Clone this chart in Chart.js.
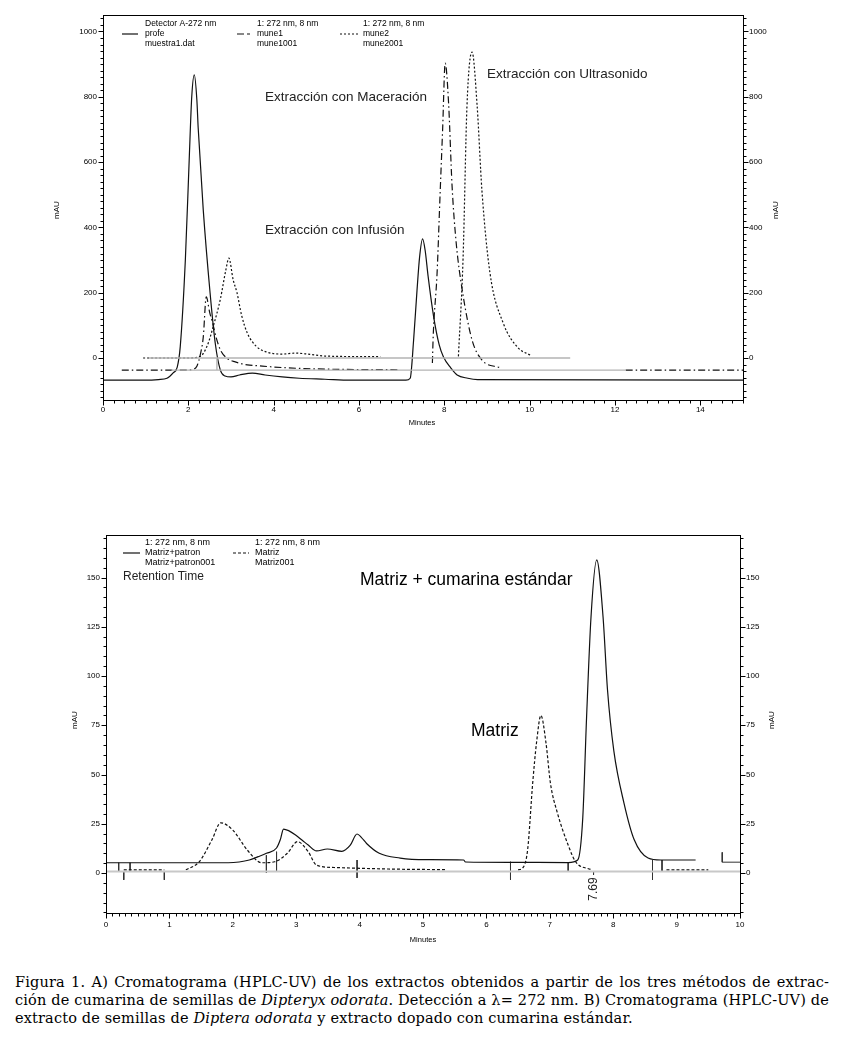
<!DOCTYPE html>
<html>
<head>
<meta charset="utf-8">
<script src="https://cdn.jsdelivr.net/npm/chart.js@4.4.1/dist/chart.umd.min.js"></script>
<style>
  body { margin: 0; background: #fff; width: 846px; height: 1037px; position: relative; overflow: hidden; }
  canvas { position: absolute; left: 0; }
  #cap { position: absolute; left: 15px; top: 973px; width: 814px; font: 14.5px "DejaVu Serif", serif; letter-spacing: 0.15px; line-height: 18px; color: #000; }
  #cap div { white-space: nowrap; text-align: justify; text-align-last: justify; }
  #cap div.last { text-align-last: left; }
</style>
</head>
<body>
<canvas id="chartA" width="846" height="440" style="top:0"></canvas>
<canvas id="chartB" width="846" height="460" style="top:500px"></canvas>
<div id="cap">
  <div>Figura 1. A) Cromatograma (HPLC-UV) de los extractos obtenidos a partir de los tres métodos de extrac-</div>
  <div>ción de cumarina de semillas de <i>Dipteryx odorata</i>. Detección a λ= 272 nm. B) Cromatograma (HPLC-UV) de</div>
  <div class="last">extracto de semillas de <i>Diptera odorata</i> y extracto dopado con cumarina estándar.</div>
</div>
<script>
// ---- chart A: three extraction methods ----
const topXTicks = [0, 2, 4, 6, 8, 10, 12, 14];
const topYTicks = [0, 200, 400, 600, 800, 1000];

// profe (infusion), solid
const profeT = [0, 1.0, 1.3, 1.5, 1.65, 1.74, 1.81, 1.93, 2.02, 2.08, 2.14, 2.2, 2.23, 2.35, 2.51, 2.63, 2.75, 2.86, 3.0, 3.2,
  3.5, 3.8, 4.2, 4.6, 5.2, 5.8, 7.1, 7.2, 7.28, 7.36, 7.42, 7.49, 7.55, 7.62, 7.75, 7.88, 7.98, 8.15, 8.3, 8.55, 8.78, 15];
const profeV = [-68, -68, -66, -62, -45, -28, 34, 300, 606, 800, 867, 790, 707, 453, 199, 46, -37, -55, -58, -52,
  -46, -52, -58, -62, -65, -68, -68, -62, 55, 208, 309, 365, 330, 250, 126, 40, 3, -30, -52, -62, -66, -68];

// mune1 (maceration), dash-dot
const mune1T = [0.44, 1.97, 2.1, 2.2, 2.28, 2.35, 2.42, 2.5, 2.57, 2.65, 2.75, 2.9, 3.1, 3.38, 3.65, 4.3, 5.2, 6.9, null,
  7.72, 7.74, 7.83, 7.9, 7.96, 8.02, 8.1, 8.18, 8.28, 8.42, 8.65, 8.88, 9.31, null, 12.25, 15];
const mune1V = [-37, -37, -35, -25, 10, 64, 187, 140, 107, 64, 25, 0, -12, -21, -24, -30, -34, -36, null,
  -15, 70, 260, 500, 700, 903, 780, 530, 350, 208, 55, -6, -30, null, -37, -37];

// mune2 (ultrasound), dotted
const mune2T = [0.94, 2.0, 2.28, 2.45, 2.58, 2.75, 2.88, 2.95, 3.05, 3.14, 3.25, 3.38, 3.6, 3.84, 4.2, 4.5, 4.8, 5.2, 6.5, null,
  8.33, 8.44, 8.53, 8.65, 8.77, 8.88, 9.07, 9.38, 9.73, 10.01];
const mune2V = [0, 0, 5, 40, 95, 180, 270, 306, 240, 200, 130, 77, 35, 18, 12, 15, 12, 6, 4, null,
  5, 309, 770, 937, 770, 515, 260, 107, 31, 9];

// grey baselines
const topGrayT = [1.08, 10.95, null, 1.6, 12.25, null, 2.67, 2.67];
const topGrayV = [0, 0, null, -37, -37, null, 0, -37];

// ---- chart B: matrix vs matrix + coumarin ----
const botXTicks = [0, 1, 2, 3, 4, 5, 6, 7, 8, 9, 10];
const botYTicks = [0, 25, 50, 75, 100, 125, 150];

const patronT = [0, 1.93, 2.1, 2.26, 2.4, 2.53, 2.69, 2.75, 2.8, 2.88, 2.99, 3.1, 3.19, 3.32, 3.49, 3.72, 3.85, 3.96, 4.03, 4.11,
  4.31, 4.64, 5.04, 5.64, 5.67, 6.37, 7.29, 7.44, 7.52, 7.58, 7.65, 7.74, 7.84, 7.91, 8.01, 8.17, 8.33, 8.55, 8.75, 9.3];
const patronV = [5.2, 5.2, 5.6, 6.6, 8.3, 10, 12.7, 17, 22.3, 21.5, 19.3, 16.5, 14.2, 11.2, 12.2, 11, 14, 19.8, 18, 15,
  10, 7.6, 6.8, 6.6, 5.6, 5.4, 5.3, 6.6, 28, 79, 130, 159, 130, 93, 62, 35.5, 17, 7.6, 6.6, 6.6];

const matrizT = [0.28, 0.92, null, 1.26, 1.47, 1.67, 1.81, 2.0, 2.23, 2.46, 2.66, 2.86, 3.02, 3.19, 3.32, 3.6, 4.0, 4.5, 5.37, null,
  6.5, 6.57, 6.65, 6.73, 6.79, 6.86, 6.94, 7.01, 7.12, 7.28, 7.41, 7.65, null, 8.84, 9.5];
const matrizV = [1.6, 1.6, null, 1.6, 5.7, 16.8, 25.5, 21.8, 11.6, 5.2, 5.7, 10, 15.9, 10.8, 4, 2.8, 2.4, 2, 1.7, null,
  1.6, 2.5, 11.7, 45.6, 66, 80, 66, 45.6, 30.5, 15, 5.6, 1.7, null, 1.6, 1.6];

const botGrayT = [0, 10];
const botGrayV = [0.8, 0.8];

// integration marks
const markT = [0.2, 0.2, null, 0.28, 0.28, null, 0.38, 0.38, null, 0.92, 0.92, null, 2.53, 2.53, null, 2.69, 2.69, null,
  3.96, 3.96, null, 6.38, 6.38, null, 7.29, 7.29, null, 7.69, 7.69, null, 8.62, 8.62, null, 8.77, 8.77, null, 9.72, 9.72, 10];
const markV = [5.2, 1, null, 1, -3.5, null, 5.2, 1, null, 1, -3.5, null, 9, 0, null, 10.8, 1, null,
  6.6, -2.5, null, 5.7, -3.5, null, 5.3, 1, null, 1, -1, null, 6.6, -3.5, null, 6.6, 1, null, 10.5, 5.5, 5.5];

const SANS = '"Liberation Sans", Arial, sans-serif';
Chart.defaults.font.family = SANS;

// zip two arrays to {x,y}; a null keeps the last x so the gap does not break sorting
function pts(ts, vs) {
  let last = 0;
  return ts.map((t, i) => {
    if (t === null) return { x: last, y: null };
    last = t;
    return { x: t, y: vs[i] };
  });
}

const DASHDOT = [7, 3, 1.5, 3];
const DOTS = [2, 2];
const DOTS_B = [3, 2];

function line(label, data, dash, extra) {
  return Object.assign({
    label, data,
    borderColor: '#111', borderWidth: 1.2, borderDash: dash || [],
    pointRadius: 0, fill: false, spanGaps: false,
    cubicInterpolationMode: 'monotone'
  }, extra || {});
}

// frame, outward ticks, legend and labels
function framePlugin(cfg) {
  return {
    id: 'frame',
    afterDatasetsDraw(chart) {
      const { ctx, chartArea: a, scales: { x, y } } = chart;
      ctx.save();
      ctx.strokeStyle = '#000';
      ctx.lineWidth = 1;
      ctx.setLineDash([]);
      const L = Math.round(a.left) + 0.5, R = Math.round(a.right) + 0.5;
      const T = Math.round(a.top) + 0.5, B = Math.round(a.bottom) + 0.5;
      ctx.strokeRect(L, T, R - L, B - T);
      ctx.beginPath();
      for (let i = Math.ceil(x.min / cfg.xMinor); i * cfg.xMinor <= x.max + 1e-9; i++) {
        const v = i * cfg.xMinor;
        const px = Math.round(x.getPixelForValue(v)) + 0.5;
        const major = Math.abs(v / cfg.xMajor - Math.round(v / cfg.xMajor)) < 1e-6;
        ctx.moveTo(px, B); ctx.lineTo(px, B + (major ? 5 : 3));
      }
      for (let i = Math.ceil(y.min / cfg.yMinor); i * cfg.yMinor <= y.max + 1e-9; i++) {
        const v = i * cfg.yMinor;
        const py = Math.round(y.getPixelForValue(v)) + 0.5;
        const major = Math.abs(v / cfg.yMajor - Math.round(v / cfg.yMajor)) < 1e-6;
        const len = major ? 5 : 3;
        ctx.moveTo(L, py); ctx.lineTo(L - len, py);
        ctx.moveTo(R, py); ctx.lineTo(R + len, py);
      }
      ctx.stroke();

      // legend samples
      ctx.strokeStyle = '#111';
      ctx.lineWidth = 1.2;
      cfg.samples.forEach(s => {
        ctx.setLineDash(s.dash);
        ctx.beginPath();
        ctx.moveTo(s.x1, s.y); ctx.lineTo(s.x2, s.y);
        ctx.stroke();
      });
      ctx.setLineDash([]);

      // texts
      ctx.textBaseline = 'middle';
      cfg.texts.forEach(t => {
        ctx.save();
        ctx.font = t.size + 'px ' + SANS;
        ctx.fillStyle = t.color || '#000';
        ctx.textAlign = t.align || 'left';
        ctx.translate(t.x, t.y);
        if (t.rot) ctx.rotate(t.rot * Math.PI / 180);
        ctx.fillText(t.text, 0, 0);
        ctx.restore();
      });
      ctx.restore();
    }
  };
}

function axes(xmin, xmax, xTicks, ymin, ymax, yTicks, xH, yW, yW2, xPad) {
  const tickFont = { size: 8, family: SANS };
  const plain = v => String(v);
  const common = {
    type: 'linear',
    grid: { display: false, drawTicks: false },
    border: { display: false },
  };
  return {
    x: Object.assign({}, common, {
      min: xmin, max: xmax, position: 'bottom',
      afterBuildTicks: s => { s.ticks = xTicks.map(v => ({ value: v })); },
      afterFit: s => { s.height = xH; },
      ticks: { font: tickFont, color: '#000', padding: xPad, maxRotation: 0, autoSkip: false, callback: plain }
    }),
    y: Object.assign({}, common, {
      min: ymin, max: ymax, position: 'left',
      afterBuildTicks: s => { s.ticks = yTicks.map(v => ({ value: v })); },
      afterFit: s => { s.width = yW; },
      ticks: { font: tickFont, color: '#000', padding: 6, autoSkip: false, callback: plain }
    }),
    y2: Object.assign({}, common, {
      min: ymin, max: ymax, position: 'right',
      afterBuildTicks: s => { s.ticks = yTicks.map(v => ({ value: v })); },
      afterFit: s => { s.width = yW2; },
      ticks: { font: tickFont, color: '#000', padding: 6, autoSkip: false, callback: plain }
    })
  };
}

const baseOpts = {
  responsive: false,
  animation: false,
  events: [],
  plugins: { legend: { display: false }, tooltip: { enabled: false } }
};

// chart A
new Chart(document.getElementById('chartA'), {
  type: 'line',
  data: {
    datasets: [
      line('gris', pts(topGrayT, topGrayV), [], { borderColor: '#b4b4b4', borderWidth: 1.4, cubicInterpolationMode: 'default', tension: 0 }),
      line('profe', pts(profeT, profeV)),
      line('mune1', pts(mune1T, mune1V), DASHDOT),
      line('mune2', pts(mune2T, mune2V), DOTS)
    ]
  },
  options: Object.assign({}, baseOpts, {
    layout: { padding: { top: 15, left: 0, right: 0, bottom: 0 } },
    scales: axes(0, 15, topXTicks, -128.6, 1050.5, topYTicks, 40, 103, 103, 5)
  }),
  plugins: [framePlugin({
    xMinor: 0.25, xMajor: 2, yMinor: 20, yMajor: 200,
    samples: [
      { x1: 122, x2: 138, y: 34, dash: [] },
      { x1: 237, x2: 252, y: 34, dash: [7, 3, 3, 3] },
      { x1: 340, x2: 358, y: 34, dash: DOTS }
    ],
    texts: [
      { text: 'Detector A-272 nm', x: 145, y: 24, size: 8.5 },
      { text: 'profe', x: 145, y: 34, size: 8.5 },
      { text: 'muestra1.dat', x: 145, y: 44, size: 8.5 },
      { text: '1: 272 nm, 8 nm', x: 257, y: 24, size: 8.5 },
      { text: 'mune1', x: 257, y: 34, size: 8.5 },
      { text: 'mune1001', x: 257, y: 44, size: 8.5 },
      { text: '1: 272 nm, 8 nm', x: 363, y: 24, size: 8.5 },
      { text: 'mune2', x: 363, y: 34, size: 8.5 },
      { text: 'mune2001', x: 363, y: 44, size: 8.5 },
      { text: 'Extracción con Maceración', x: 265, y: 97, size: 13.5, color: '#222' },
      { text: 'Extracción con Infusión', x: 265, y: 230, size: 13.5, color: '#222' },
      { text: 'Extracción con Ultrasonido', x: 487, y: 74, size: 13.5, color: '#222' },
      { text: 'mAU', x: 57, y: 210, size: 8, rot: -90, align: 'center' },
      { text: 'mAU', x: 776, y: 210, size: 8, rot: -90, align: 'center' },
      { text: 'Minutes', x: 422, y: 423, size: 7.5, align: 'center' }
    ]
  })]
});

// chart B
new Chart(document.getElementById('chartB'), {
  type: 'line',
  data: {
    datasets: [
      line('gris', pts(botGrayT, botGrayV), [], { borderColor: '#c8c8c8', borderWidth: 2, cubicInterpolationMode: 'default', tension: 0 }),
      line('Matriz+patron', pts(patronT, patronV)),
      line('Matriz', pts(matrizT, matrizV), DOTS_B),
      line('marcas', pts(markT, markV), [], { borderWidth: 1, borderColor: '#333', cubicInterpolationMode: 'default', tension: 0 })
    ]
  },
  options: Object.assign({}, baseOpts, {
    layout: { padding: { top: 35, left: 0, right: 0, bottom: 0 } },
    scales: axes(0, 10, botXTicks, -20.3, 171.6, botYTicks, 47, 106, 106, 7)
  }),
  plugins: [framePlugin({
    xMinor: 0.1, xMajor: 1, yMinor: 5, yMajor: 25,
    samples: [
      { x1: 123, x2: 140, y: 53, dash: [] },
      { x1: 233, x2: 249, y: 53, dash: DOTS_B }
    ],
    texts: [
      { text: '1: 272 nm, 8 nm', x: 145, y: 43, size: 9 },
      { text: 'Matriz+patron', x: 145, y: 53, size: 9 },
      { text: 'Matriz+patron001', x: 145, y: 63, size: 9 },
      { text: '1: 272 nm, 8 nm', x: 255, y: 43, size: 9 },
      { text: 'Matriz', x: 255, y: 53, size: 9 },
      { text: 'Matriz001', x: 255, y: 63, size: 9 },
      { text: 'Retention Time', x: 123, y: 77, size: 12, color: '#222' },
      { text: 'Matriz + cumarina estándar', x: 360, y: 80, size: 17.5 },
      { text: 'Matriz', x: 471, y: 231, size: 17.5 },
      { text: '7.69', x: 594, y: 389, size: 12, rot: -90, align: 'center', color: '#222' },
      { text: 'mAU', x: 75, y: 220, size: 8, rot: -90, align: 'center' },
      { text: 'mAU', x: 772, y: 220, size: 8, rot: -90, align: 'center' },
      { text: 'Minutes', x: 423, y: 440, size: 7.5, align: 'center' }
    ]
  })]
});
</script>
</body>
</html>
